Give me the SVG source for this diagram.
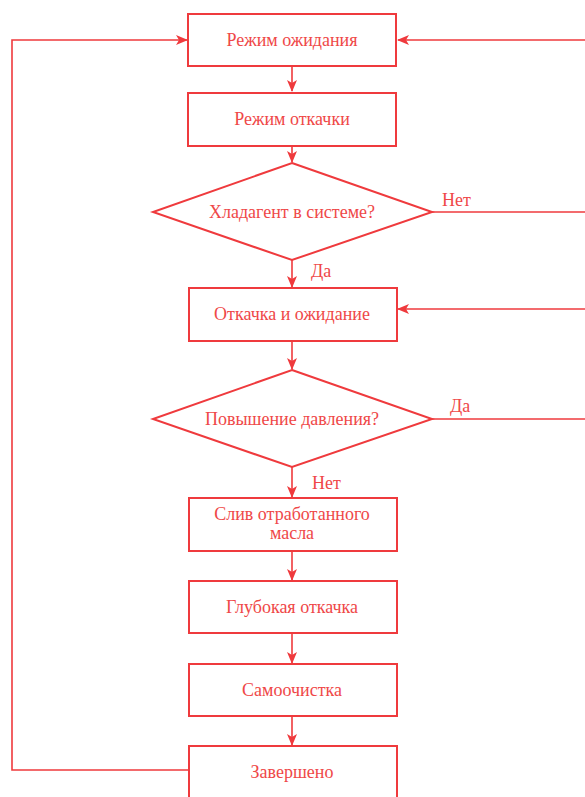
<svg xmlns="http://www.w3.org/2000/svg" width="585" height="797" viewBox="0 0 585 797">
<style>
.box{fill:#fff;stroke:#ef3a3d;stroke-width:2}
.ln{fill:none;stroke:#ef3a3d;stroke-width:1.6}
text{font-family:"Liberation Serif","DejaVu Serif","Times New Roman",serif;font-size:18px;fill:#ef4848}
.t{text-anchor:middle}
</style>
<defs>
<marker id="a" viewBox="0 0 12 10" markerWidth="12" markerHeight="10" refX="11" refY="5" orient="auto" markerUnits="userSpaceOnUse">
<path d="M0,0 L12,5 L0,10 L3,5 z" fill="#ef3a3d"/>
</marker>
</defs>
<rect width="585" height="797" fill="#fff"/>
<g id="connectors">
<path class="ln" d="M292,66 V91" marker-end="url(#a)"/>
<path class="ln" d="M292,146 V162" marker-end="url(#a)"/>
<path class="ln" d="M292,260 V287" marker-end="url(#a)"/>
<path class="ln" d="M292,341 V369" marker-end="url(#a)"/>
<path class="ln" d="M292,467 V497" marker-end="url(#a)"/>
<path class="ln" d="M292,551 V580" marker-end="url(#a)"/>
<path class="ln" d="M292,633 V663" marker-end="url(#a)"/>
<path class="ln" d="M292,716 V745" marker-end="url(#a)"/>
<path class="ln" d="M585,40 H398" marker-end="url(#a)"/>
<path class="ln" d="M432,212 H585"/>
<path class="ln" d="M585,309 H398" marker-end="url(#a)"/>
<path class="ln" d="M432,419 H585"/>
<path class="ln" d="M188,770 H12 V40 H187" marker-end="url(#a)"/>
<text x="442" y="206">Нет</text>
<text x="311" y="277">Да</text>
<text x="450" y="412">Да</text>
<text x="312" y="489">Нет</text>
</g>
<g id="n1"><rect class="box" x="188" y="14" width="208" height="52"/><text class="t" x="292" y="46">Режим ожидания</text></g>
<g id="n2"><rect class="box" x="188" y="93" width="208" height="53"/><text class="t" x="292" y="125">Режим откачки</text></g>
<g id="n3"><polygon class="box" points="292,163 432,212 292,260 153,212"/><text class="t" x="292" y="218">Хладагент в системе?</text></g>
<g id="n4"><rect class="box" x="189" y="288" width="208" height="53"/><text class="t" x="292" y="320">Откачка и ожидание</text></g>
<g id="n5"><polygon class="box" points="292,370 432,419 292,467 153,419"/><text class="t" x="292" y="425">Повышение давления?</text></g>
<g id="n6"><rect class="box" x="189" y="498" width="208" height="53"/><text class="t" x="292" y="520">Слив отработанного</text><text class="t" x="292" y="539">масла</text></g>
<g id="n7"><rect class="box" x="189" y="581" width="208" height="52"/><text class="t" x="292" y="613">Глубокая откачка</text></g>
<g id="n8"><rect class="box" x="189" y="664" width="208" height="52"/><text class="t" x="292" y="696">Самоочистка</text></g>
<g id="n9"><rect class="box" x="189" y="746" width="208" height="60"/><text class="t" x="292" y="778">Завершено</text></g>
</svg>
